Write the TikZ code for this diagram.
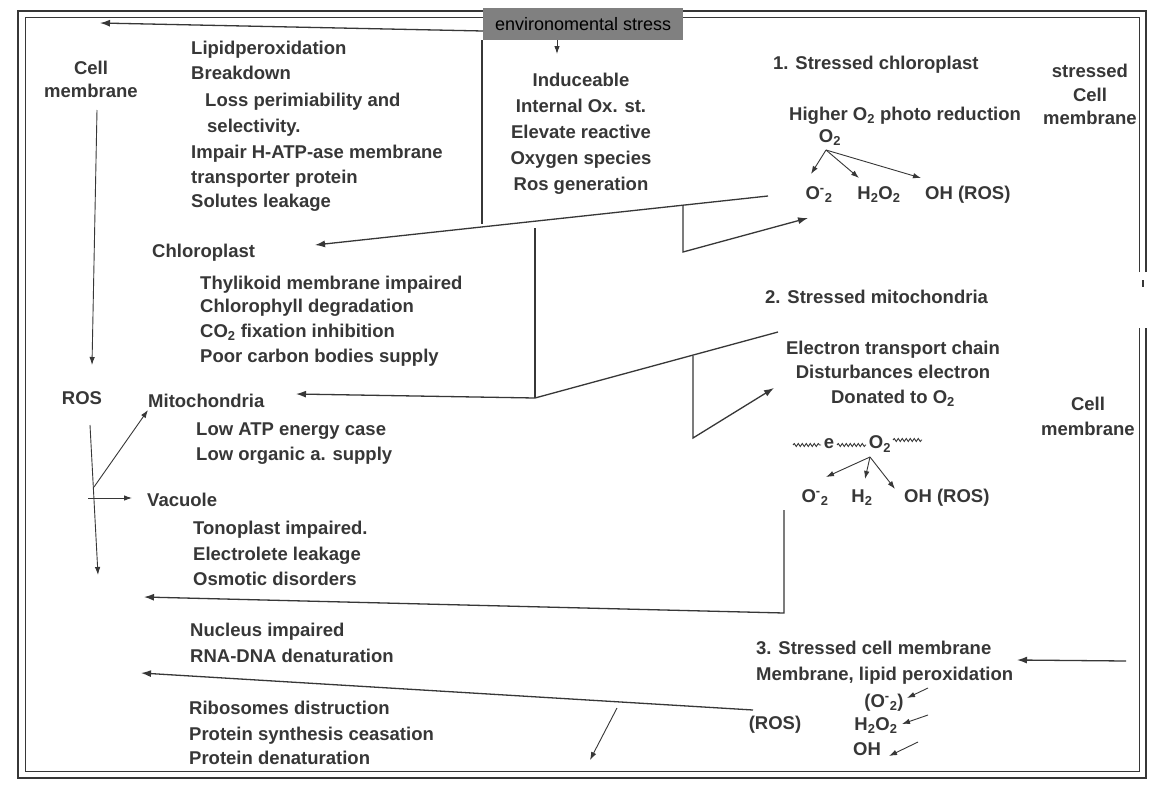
\documentclass[tikz,border=0pt]{standalone}
\usepackage{fontspec}
\setmainfont{Liberation Sans}
\usepackage{tikz}
\usetikzlibrary{arrows.meta,decorations.pathmorphing}

\definecolor{ink}{RGB}{55,55,55}
\definecolor{boxgray}{RGB}{128,128,128}

\begin{document}
\begin{tikzpicture}[x=1pt,y=-1pt,
  txt/.style={font=\fontsize{18.5}{22}\selectfont\bfseries, text=ink, inner sep=0pt, anchor=base west},
  ctr/.style={txt, anchor=base},
  mid/.style={txt, anchor=center},
  conn/.style={draw=ink, line width=1.3pt},
  arr/.style={conn, -{Latex[length=10pt,width=7pt]}},
  thinarr/.style={draw=ink, line width=0.9pt, -{Latex[length=8pt,width=5.5pt]}},
  wave/.style={conn, line width=0.9pt, decorate, decoration={snake, amplitude=1.5pt, segment length=4pt}}]

\useasboundingbox (0,0) rectangle (1157,798);
\fill[white] (0,0) rectangle (1157,798);

% Draw frame
\draw[ink, line width=2.6pt] (1146,272) -- (1146,11) -- (18,11) -- (18,778) -- (1146,778) -- (1146,328);
\draw[ink, line width=0.9pt] (1139,272) -- (1139,17) -- (25,17) -- (25,771) -- (1139,771) -- (1139,328);
\draw[ink, line width=1.6pt] (1143,280) -- (1143,287);

\node[fill=boxgray, anchor=north west, minimum width=200pt, minimum height=32pt, inner sep=0pt,
  font=\fontsize{18}{20}\selectfont] (env) at (483,8) {environomental stress};

% Cell membrane column
\node[ctr] (cm1) at (91,74) {Cell};
\node[ctr] (cm2) at (91,97) {membrane};
\node[ctr] (ros) at (82,404) {ROS};

\coordinate (envw) at (483,31);
\coordinate (topl) at (100,23);
\draw[arr] (envw) -- (topl);
\draw[thinarr] (557,40) -- (557,54);

\draw[thinarr] (97,110) -- (92,365);
\draw[thinarr] (90,425) -- (98,575);
\draw[thinarr] (94,487) -- (148,410);
\draw[thinarr] (88,498) -- (132,498);

% Lipid peroxidation
\node[txt] (lp1) at (191,54) {Lipidperoxidation};
\node[txt] (lp2) at (191,79) {Breakdown};
\node[txt] (lp3) at (205,106) {Loss perimiability and};
\node[txt] (lp4) at (207,132) {selectivity.};
\node[txt] (lp5) at (191,158) {Impair H-ATP-ase membrane};
\node[txt] (lp6) at (191,183) {transporter protein};
\node[txt] (lp7) at (191,207) {Solutes leakage};

% Induced stress
\node[ctr] (ind1) at (581,86) {Induceable};
\node[ctr] (ind2) at (581,112) {Internal Ox. st.};
\node[ctr] (ind3) at (581,138) {Elevate reactive};
\node[ctr] (ind4) at (581,164) {Oxygen species};
\node[ctr] (ind5) at (581,190) {Ros generation};

% 1. Stressed chloroplast
\node[txt] (sc1) at (773,69) {1. Stressed chloroplast};
\node[txt] (sc2) at (789,120) {Higher O\textsubscript{2} photo reduction};
\node[ctr] (sco) at (830,142) {O\textsubscript{2}};
\node[ctr] (sca) at (819,199) {O\textsuperscript{-}\textsubscript{2}};
\node[ctr] (scb) at (879,199) {H\textsubscript{2}O\textsubscript{2}};
\node[txt] (scc) at (925,199) {OH (ROS)};
\coordinate (scapex) at (826,150);
\draw[thinarr] (scapex) -- (811,174);
\draw[thinarr] (scapex) -- (859,178);
\draw[thinarr] (scapex) -- (921,178);

\node[ctr] (st1) at (1090,77) {stressed};
\node[ctr] (st2) at (1090,101) {Cell};
\node[ctr] (st3) at (1090,124) {membrane};

% Chloroplast
\node[txt] (ch0) at (152,257) {Chloroplast};
\node[txt] (ch1) at (200,289) {Thylikoid membrane impaired};
\node[txt] (ch2) at (200,312) {Chlorophyll degradation};
\node[txt] (ch3) at (200,337) {CO\textsubscript{2} fixation inhibition};
\node[txt] (ch4) at (200,362) {Poor carbon bodies supply};

\coordinate (c1w) at (768,196);
\coordinate (chlt) at (315,245);
\draw[arr] (c1w) -- (chlt);
\draw[conn] (482,40) -- (482,224);
\draw[conn] (535,228) -- (535,398);
\draw[arr] (683,206) -- (683,252) -- (808,218);

% 2. Stressed mitochondria
\node[txt] (sm0) at (765,303) {2. Stressed mitochondria};
\node[ctr] (sm1) at (893,354) {Electron transport chain};
\node[ctr] (sm2) at (893,378) {Disturbances electron};
\node[ctr] (sm3) at (893,403) {Donated to O\textsubscript{2}};
\draw[wave] (793,445) -- (821,445);
\node[mid] (we) at (829,444) {e};
\draw[wave] (837,445) -- (866,445);
\node[mid] (wo) at (880,444) {O\textsubscript{2}};
\draw[wave] (893,440) -- (922,440);
\coordinate (smapex) at (870,457);
\draw[thinarr] (smapex) -- (826,477);
\draw[thinarr] (smapex) -- (865,479);
\draw[thinarr] (smapex) -- (895,489);
\node[ctr] (sma) at (815,502) {O\textsuperscript{-}\textsubscript{2}};
\node[ctr] (smb) at (862,502) {H\textsubscript{2}};
\node[txt] (smc) at (904,502) {OH (ROS)};

\node[ctr] (cm3) at (1088,410) {Cell};
\node[ctr] (cm4) at (1088,435) {membrane};

\draw[arr] (778,332) -- (535,398) -- (296,394);
\draw[arr] (693,356) -- (693,438) -- (774,388);

% Mitochondria and vacuole
\node[txt] (mi0) at (148,407) {Mitochondria};
\node[txt] (mi1) at (196,435) {Low ATP energy case};
\node[txt] (mi2) at (196,460) {Low organic a. supply};
\node[txt] (va0) at (147,506) {Vacuole};
\node[txt] (va1) at (193,534) {Tonoplast impaired.};
\node[txt] (va2) at (193,560) {Electrolete leakage};
\node[txt] (va3) at (193,585) {Osmotic disorders};

\draw[arr] (784,510) -- (784,613) -- (144,597);

% Nucleus and ribosomes
\node[txt] (nu1) at (190,636) {Nucleus impaired};
\node[txt] (nu2) at (190,662) {RNA-DNA denaturation};
\node[txt] (rb1) at (189,714) {Ribosomes distruction};
\node[txt] (rb2) at (189,740) {Protein synthesis ceasation};
\node[txt] (rb3) at (189,764) {Protein denaturation};

\draw[arr] (753,710) -- (141,673);
\draw[thinarr] (617,708) -- (590,760);

% 3. Stressed cell membrane
\node[txt] (sx0) at (756,654) {3. Stressed cell membrane};
\node[txt] (sx1) at (756,680) {Membrane, lipid peroxidation};
\node[ctr] (sxa) at (884,707) {(O\textsuperscript{-}\textsubscript{2})};
\node[ctr] (sxb) at (876,730) {H\textsubscript{2}O\textsubscript{2}};
\node[ctr] (sxc) at (867,755) {OH};
\node[ctr] (sxr) at (775,729) {(ROS)};
\draw[arr] (1126,661) -- (1017,660);
\draw[thinarr] (928,688) -- (907,698);
\draw[thinarr] (928,715) -- (902,724);
\draw[thinarr] (918,742) -- (889,756);

\end{tikzpicture}
\end{document}
